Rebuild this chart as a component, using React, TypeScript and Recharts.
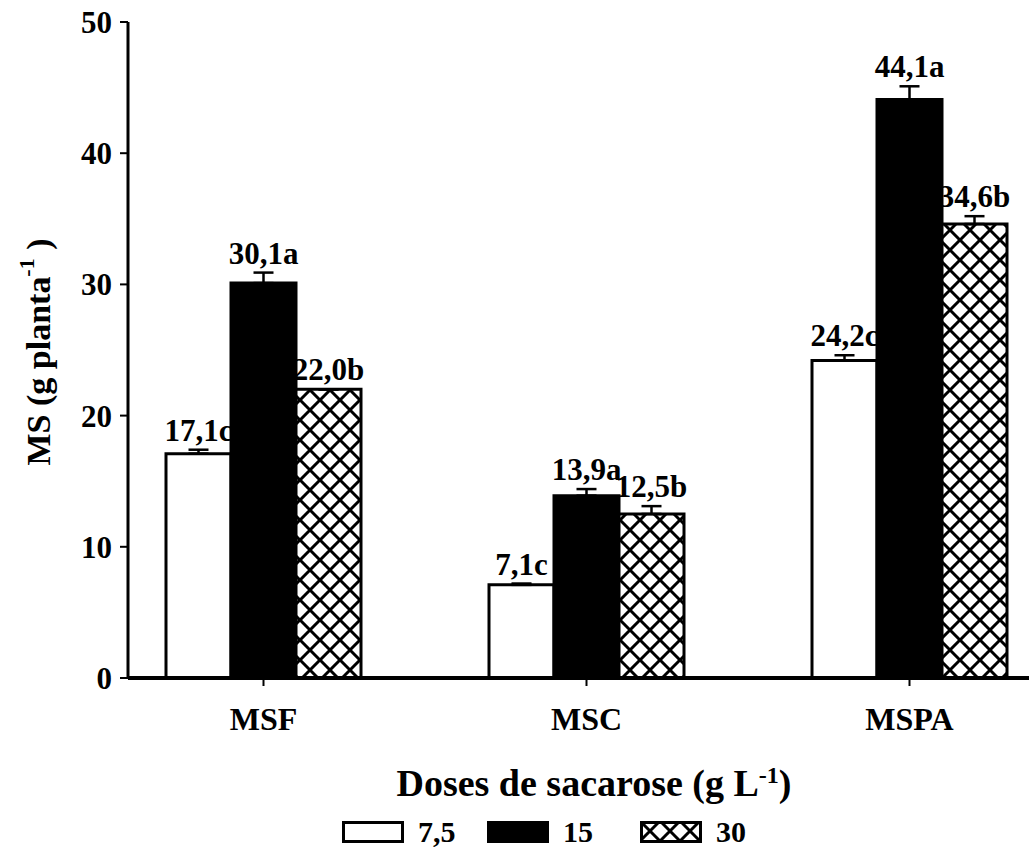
import React from 'react';
import { BarChart, Bar, XAxis, YAxis, ErrorBar, LabelList, Legend } from 'recharts';

// Dry-mass components and sucrose doses
const categories = ['MSF', 'MSC', 'MSPA'];
const doseLabels = ['7,5', '15', '30'];

// Means per dose (g planta-1)
const dose75 = [17.1, 7.1, 24.2];
const dose15 = [30.1, 13.9, 44.1];
const dose30 = [22.0, 12.5, 34.6];

// Standard errors per dose
const err75 = [0.3, 0.1, 0.4];
const err15 = [0.8, 0.5, 1.0];
const err30 = [0.0, 0.6, 0.6];

// Mean-comparison letters
const letters75 = ['c', 'c', 'c'];
const letters15 = ['a', 'a', 'a'];
const letters30 = ['b', 'b', 'b'];

const yTicks = [0, 10, 20, 30, 40, 50];

const data = categories.map((cat, i) => ({
  cat,
  d75: dose75[i],
  d15: dose15[i],
  d30: dose30[i],
  e75: [0, err75[i]],
  e15: [0, err15[i]],
  e30: [0, err30[i]],
}));

const FONT = '"Liberation Serif", "Times New Roman", serif';

const fmt = (v: number) => v.toFixed(1).replace('.', ',');

const makeLabel = (values: number[], errs: number[], letters: string[]) => (props: any) => {
  const { x, y, width, height, index } = props;
  const i = typeof index === 'number' ? index : values.indexOf(props.value);
  const v = values[i];
  const perUnit = v ? height / v : 0;
  const capY = y - errs[i] * perUnit;
  return (
    <text
      x={x + width / 2}
      y={capY - 9}
      textAnchor="middle"
      fontFamily={FONT}
      fontWeight="bold"
      fontSize={31}
      fill="#000"
    >
      {fmt(v) + letters[i]}
    </text>
  );
};

const HatchDef = ({ id }: { id: string }) => (
  <pattern id={id} patternUnits="userSpaceOnUse" width={20} height={20}>
    <rect width={20} height={20} fill="#fff" />
    <path
      d="M0,0 L20,20 M20,0 L0,20 M-5,15 L5,25 M15,-5 L25,5 M-5,5 L5,-5 M15,25 L25,15"
      stroke="#000"
      strokeWidth={3}
    />
  </pattern>
);

const fills = ['#fff', '#000', 'url(#hatchLegend)'];

const LegendContent = () => (
  <div style={{ display: 'flex', alignItems: 'center', paddingLeft: 342, fontFamily: FONT, fontWeight: 'bold', fontSize: 30 }}>
    <svg width={0} height={0} style={{ position: 'absolute' }}>
      <defs>
        <HatchDef id="hatchLegend" />
      </defs>
    </svg>
    {doseLabels.map((lab, i) => (
      <div key={lab} style={{ display: 'flex', alignItems: 'center', width: i === 0 ? 145 : 153 }}>
        <svg width={62} height={22}>
          <rect x={1.5} y={1.5} width={59} height={19} fill={fills[i]} stroke="#000" strokeWidth={3} />
        </svg>
        <span style={{ marginLeft: 14 }}>{lab}</span>
      </div>
    ))}
  </div>
);

const YTitle = () => (
  <text
    transform="rotate(-90, 38, 352)"
    x={38}
    y={352}
    textAnchor="middle"
    dominantBaseline="central"
    fontFamily={FONT}
    fontWeight="bold"
    fontSize={34}
    fill="#000"
  >
    <tspan>MS (g planta</tspan>
    <tspan dy={-12} fontSize={22}>-1</tspan>
    <tspan dy={12}> )</tspan>
  </text>
);

const XTitle = () => (
  <text x={594} y={796} textAnchor="middle" fontFamily={FONT} fontWeight="bold" fontSize={38} fill="#000">
    <tspan>Doses de sacarose (g L</tspan>
    <tspan dy={-13} fontSize={24}>-1</tspan>
    <tspan dy={13}>)</tspan>
  </text>
);

export default function App() {
  return (
    <div style={{ position: 'absolute', left: 0, top: 0, width: 1029, height: 850, overflow: 'hidden', background: '#fff' }}>
      <BarChart
        width={1100}
        height={850}
        data={data}
        margin={{ top: 22, right: 0, left: 68, bottom: 112 }}
        barGap={0}
        barSize={65}
      >
        <defs>
          <HatchDef id="hatchBar" />
        </defs>
        <XAxis
          dataKey="cat"
          height={60}
          padding={{ left: -26, right: 29 }}
          axisLine={{ stroke: '#000', strokeWidth: 4 }}
          tickLine={{ stroke: '#000', strokeWidth: 2 }}
          tickSize={8}
          tickMargin={21}
          tick={{ fontFamily: FONT, fontWeight: 'bold', fontSize: 32, fill: '#000' }}
          label={<XTitle />}
        />
        <YAxis
          width={60}
          domain={[0, 50]}
          ticks={yTicks}
          axisLine={{ stroke: '#000', strokeWidth: 3 }}
          tickLine={{ stroke: '#000', strokeWidth: 2 }}
          tickSize={8}
          tickMargin={8}
          tick={{ fontFamily: FONT, fontWeight: 'bold', fontSize: 31, fill: '#000' }}
          label={<YTitle />}
        />
        <Legend
          layout="horizontal"
          verticalAlign="middle"
          align="center"
          wrapperStyle={{ top: 815, left: 0, width: 1029 }}
          content={<LegendContent />}
        />
        <Bar dataKey="d75" name={doseLabels[0]} fill="#fff" stroke="#000" strokeWidth={3} isAnimationActive={false}>
          <ErrorBar dataKey="e75" width={10} stroke="#000" strokeWidth={2.5} />
          <LabelList dataKey="d75" content={makeLabel(dose75, err75, letters75)} />
        </Bar>
        <Bar dataKey="d15" name={doseLabels[1]} fill="#000" stroke="#000" strokeWidth={3} isAnimationActive={false}>
          <ErrorBar dataKey="e15" width={10} stroke="#000" strokeWidth={2.5} />
          <LabelList dataKey="d15" content={makeLabel(dose15, err15, letters15)} />
        </Bar>
        <Bar dataKey="d30" name={doseLabels[2]} fill="url(#hatchBar)" stroke="#000" strokeWidth={3} isAnimationActive={false}>
          <ErrorBar dataKey="e30" width={10} stroke="#000" strokeWidth={2.5} />
          <LabelList dataKey="d30" content={makeLabel(dose30, err30, letters30)} />
        </Bar>
      </BarChart>
    </div>
  );
}
